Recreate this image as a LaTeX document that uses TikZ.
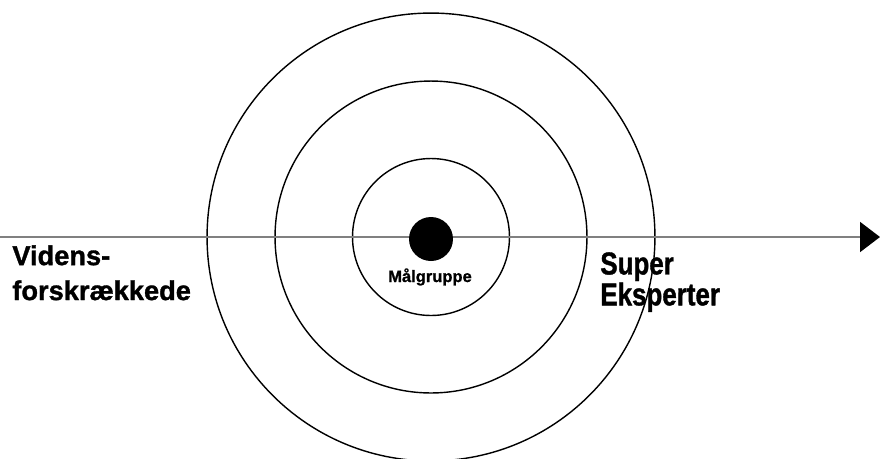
\documentclass[tikz,border=0pt]{standalone}
\usepackage{fontspec}
\setmainfont{Liberation Sans}
\newfontfamily\heavyfont[FakeBold=1.2]{Liberation Sans}
\newfontfamily\heavycondfont[FakeBold=1.2, FakeStretch=0.82]{Liberation Sans}
\usetikzlibrary{arrows.meta}

\tikzset{
    ring/.style={draw=black, line width=0.8pt, circle, inner sep=0pt},
    label text/.style={align=left, inner sep=0pt},
}

\begin{document}
\begin{tikzpicture}[x=0.02cm, y=-0.02cm]
        \useasboundingbox (0,0) rectangle (880,458);

        % -- three rings round the target group -----------------------------------
        \foreach \name/\d in {inner/3.14, middle/6.24, outer/8.96} {
            \node[ring, minimum size=\d cm] (\name) at (431,237) {};
        }

        % -- knowledge axis --------------------------------------------------------
        \coordinate (axisstart) at (0,237);
        \coordinate (axisend) at (880,237);
        \draw[black!50, line width=1.1pt,
              -{Triangle[length=0.4cm, width=0.6cm, color=black]}] (axisstart) -- (axisend);

        % -- target group dot ------------------------------------------------------
        \node[circle, fill=black, inner sep=0pt, minimum size=0.88cm] (dot) at (431,239) {};
        \node[anchor=base, inner sep=0pt, font=\heavyfont\bfseries\fontsize{9.4}{11}\selectfont] (target) at (430,282) {Målgruppe};

        % -- end labels ------------------------------------------------------------
        \node[label text, anchor=north west, font=\heavyfont\bfseries\fontsize{15.5}{19.9}\selectfont] (novice) at (12,245) {Videns-\\forskrækkede};
        \node[label text, anchor=north west, font=\heavycondfont\bfseries\fontsize{18}{17.6}\selectfont] (expert) at (600,252) {Super\\Eksperter};
    \end{tikzpicture}
\end{document}
